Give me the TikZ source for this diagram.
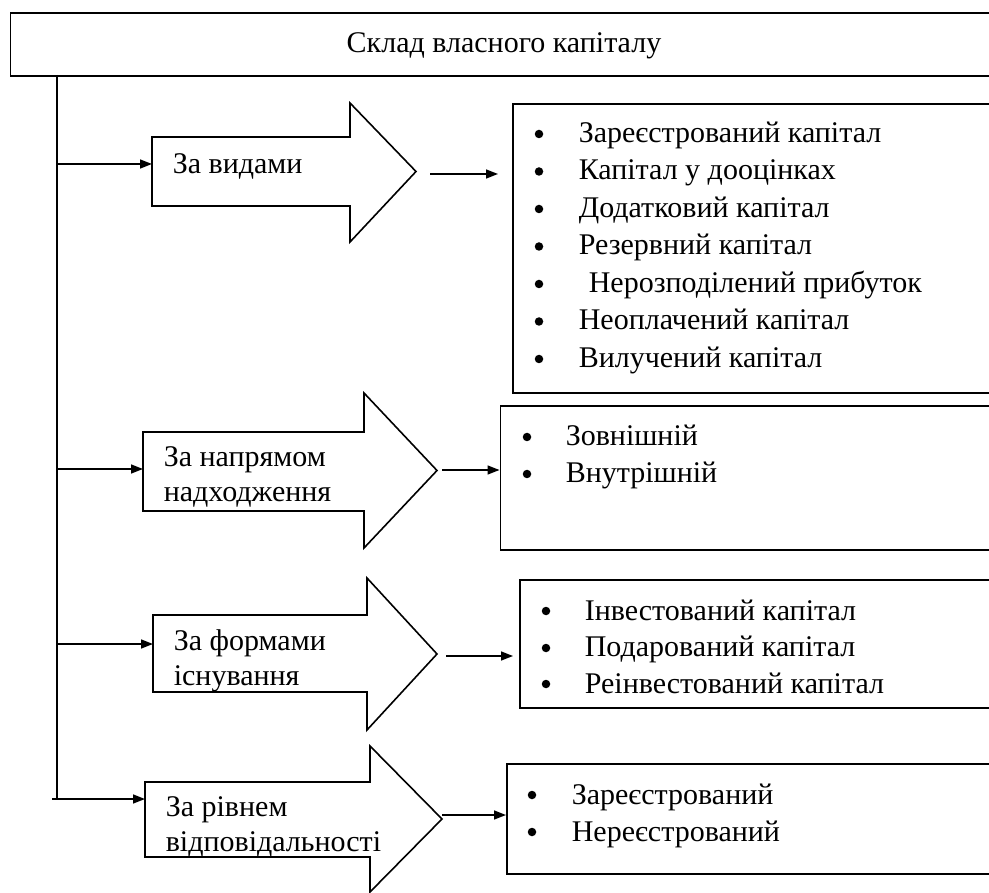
\documentclass[tikz,border=0pt]{standalone}
\usepackage{fontspec}
\setmainfont{Liberation Serif}
\usetikzlibrary{arrows.meta}
\begin{document}
\begin{tikzpicture}[x=1pt,y=-1pt,line width=1.6pt,
  txt/.style={font=\fontsize{30}{35}\selectfont, inner sep=0pt, text height=0.7em, text depth=0.25em, anchor=west},
  lbl/.style={font=\fontsize{30}{35}\selectfont, inner sep=0pt, align=left, anchor=west},
  bul/.style={circle, fill, inner sep=0pt, minimum size=8.5pt},
  box/.style={draw, anchor=north west, inner sep=0pt, minimum width=700pt},
  conn/.style={-{Triangle[length=12pt,width=9pt]}, line width=1.6pt},
  bigarrow/.style={draw, line width=1.6pt, line join=miter}]
\clip (0,0) rectangle (989,893);
\useasboundingbox (0,0) rectangle (989,893);

% title box
\node[box, minimum width=1000pt, minimum height=63pt] (top) at (9.5,12) {};
\node[font=\fontsize{30}{35}\selectfont, inner sep=0pt, text height=0.7em, text depth=0.25em] (title) at (504,50) {Склад власного капіталу};

% trunk
\coordinate (vtop) at (57,75);
\coordinate (vbot) at (57,800);
\draw (vtop) -- (vbot);
\coordinate (b1) at (57,164);
\coordinate (b2) at (57,469);
\coordinate (b3) at (57,644);
\coordinate (b4) at (52,799);

% big arrows
\draw[bigarrow] (350,137) -- (350,103) -- (416,171.5) -- (350,242) -- (350,206) -- (152,206) -- (152,137) -- cycle;
\draw[bigarrow] (364,432) -- (364,393) -- (437,470.5) -- (364,548) -- (364,511) -- (143,511) -- (143,432) -- cycle;
\draw[bigarrow] (367,615) -- (367,578) -- (437,654) -- (367,730) -- (367,692) -- (153,692) -- (153,615) -- cycle;
\draw[bigarrow] (370,782) -- (370,746) -- (442,819) -- (370,892) -- (370,857) -- (145,857) -- (145,782) -- cycle;

\coordinate (a1in) at (152,164);
\coordinate (a2in) at (143,469);
\coordinate (a3in) at (153,644);
\coordinate (a4in) at (145,799);
\draw[conn] (b1) -- (a1in);
\draw[conn] (b2) -- (a2in);
\draw[conn] (b3) -- (a3in);
\draw[conn] (b4) -- (a4in);

\node[lbl] (l1) at (172,166) {За видами};
\node[lbl] (l2) at (163,477) {За напрямом\\надходження};
\node[lbl] (l3) at (173,661) {За формами\\існування};
\node[lbl] (l4) at (165,827) {За рівнем\\відповідальності};

% boxes
\node[box, minimum height=289pt] (box1) at (512,103) {};
\node[box, minimum height=144pt] (box2) at (499.5,405) {};
\node[box, minimum height=128pt] (box3) at (519,579) {};
\node[box, minimum height=110pt] (box4) at (506,763) {};

% small arrows
\coordinate (s1) at (430,174);
\coordinate (e1) at (498,174);
\coordinate (s2) at (442,470);
\coordinate (s3) at (446,656);
\coordinate (e3) at (513,656);
\coordinate (s4) at (442,815);
\draw[conn] (s1) -- (e1);
\draw[conn] (s2) -- (box2.west |- s2);
\draw[conn] (s3) -- (e3);
\draw[conn] (s4) -- (box4.west |- s4);

% box1 items
\node[bul] (p11) at (539,134) {};
\node[txt] (i11) at (578,140) {Зареєстрований капітал};
\node[bul] (p12) at (539,171.5) {};
\node[txt] (i12) at (578,177.5) {Капітал у дооцінках};
\node[bul] (p13) at (539,209) {};
\node[txt] (i13) at (578,215) {Додатковий капітал};
\node[bul] (p14) at (539,246.5) {};
\node[txt] (i14) at (578,252.5) {Резервний капітал};
\node[bul] (p15) at (539,284) {};
\node[txt] (i15) at (588,290) {Нерозподілений прибуток};
\node[bul] (p16) at (539,321.5) {};
\node[txt] (i16) at (578,327.5) {Неоплачений капітал};
\node[bul] (p17) at (539,359) {};
\node[txt] (i17) at (578,365) {Вилучений капітал};

% box2 items
\node[bul] (p21) at (527,437) {};
\node[txt] (i21) at (565,443) {Зовнішній};
\node[bul] (p22) at (527,474) {};
\node[txt] (i22) at (565,480) {Внутрішній};

% box3 items
\node[bul] (p31) at (546,611) {};
\node[txt] (i31) at (584,618) {Інвестований капітал};
\node[bul] (p32) at (546,648) {};
\node[txt] (i32) at (584,654.5) {Подарований капітал};
\node[bul] (p33) at (546,684) {};
\node[txt] (i33) at (584,691) {Реінвестований капітал};

% box4 items
\node[bul] (p41) at (532,795) {};
\node[txt] (i41) at (571,802) {Зареєстрований};
\node[bul] (p42) at (532,832) {};
\node[txt] (i42) at (571,839) {Нереєстрований};
\end{tikzpicture}
\end{document}
